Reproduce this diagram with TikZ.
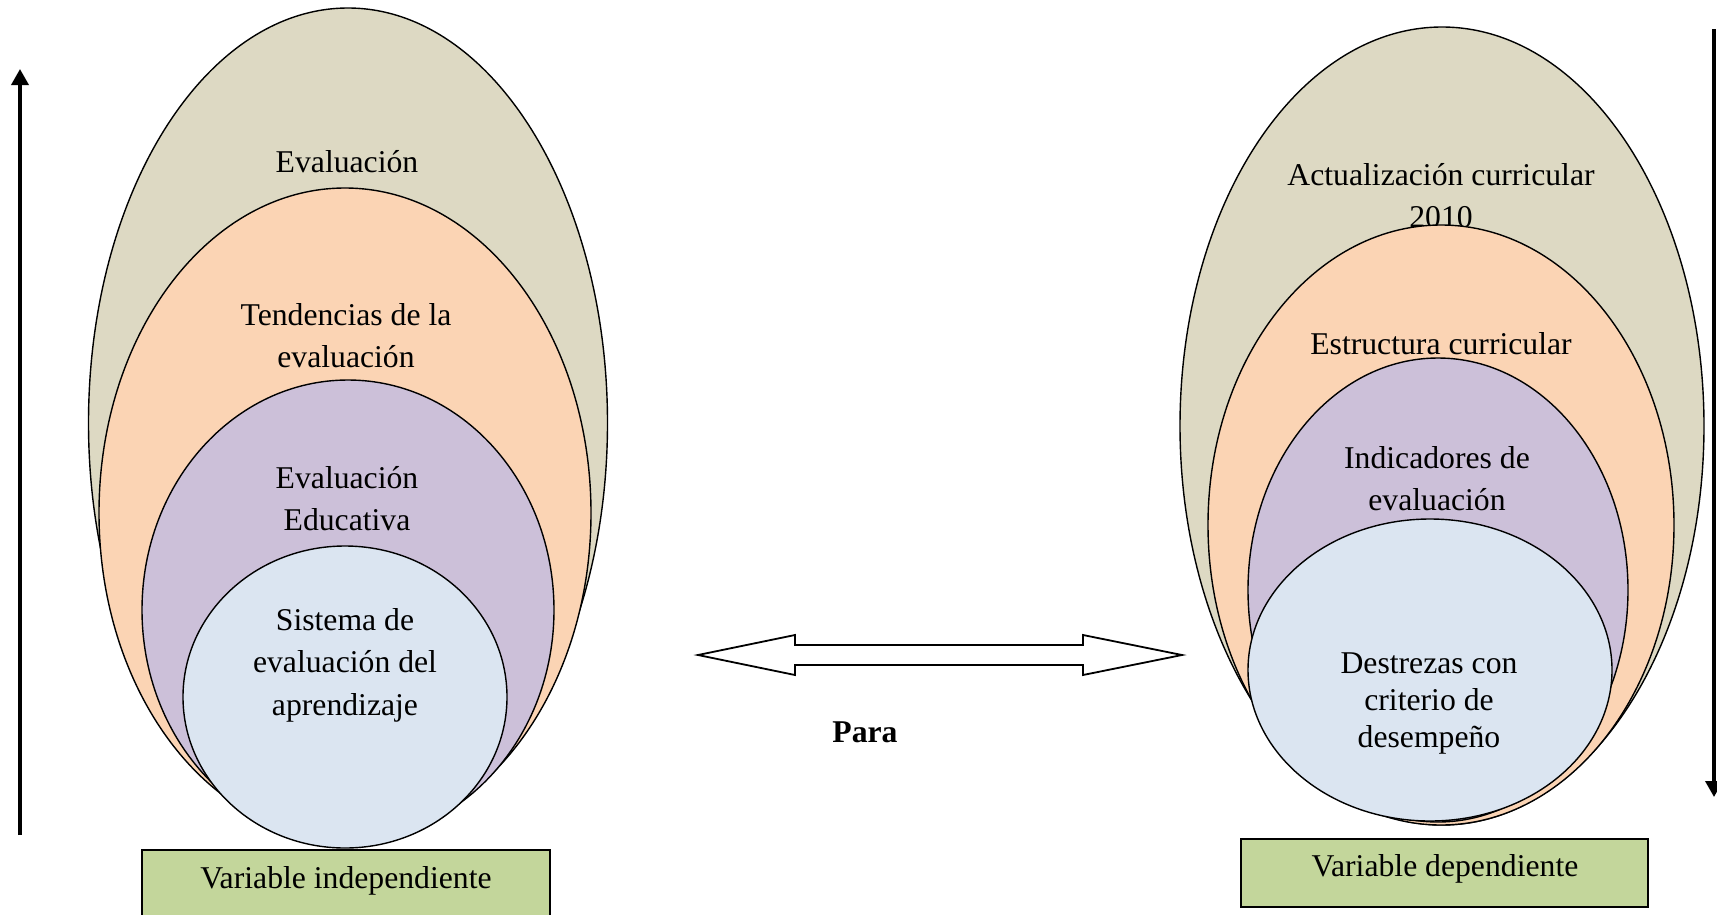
\documentclass[tikz,border=0pt]{standalone}
\usepackage{fontspec}
\setmainfont{Liberation Serif}
\usetikzlibrary{shapes.geometric,arrows.meta}
\definecolor{tanc}{HTML}{DDD9C3}
\definecolor{orangec}{HTML}{FBD4B4}
\definecolor{purplec}{HTML}{CCC0D9}
\definecolor{bluec}{HTML}{DBE5F1}
\definecolor{greenc}{HTML}{C3D69B}
\begin{document}
\begin{tikzpicture}[x=1pt,y=-1pt,
  ell/.style={ellipse, draw=black, line width=1.4pt, inner sep=0pt},
  lbl/.style={align=center, font=\fontsize{31.7}{42.5}\selectfont, inner sep=0pt},
  vbox/.style={rectangle, draw=black, line width=2pt, fill=greenc, inner sep=0pt, anchor=north},
  vline/.style={line width=3.5pt, -{Triangle[length=16pt,width=17pt]}},
  darrow/.style={draw=black, line width=1.8pt, fill=white, line join=miter}]
\useasboundingbox (0,0) rectangle (1717,914);

% Left side
\node[ell, fill=tanc, minimum width=519pt, minimum height=830pt] (L1) at (348,423) {};
\node[lbl] (tL1) at (347,162) {Evaluación};
\node[ell, fill=orangec, minimum width=492pt, minimum height=650pt] (L2) at (345,513) {};
\node[lbl] (tL2) at (346,335.5) {Tendencias de la\\evaluación};
\node[ell, fill=purplec, minimum width=412pt, minimum height=460pt] (L3) at (348,610) {};
\node[lbl] (tL3) at (347,498.5) {Evaluación\\Educativa};
\node[ell, fill=bluec, minimum width=324pt, minimum height=302pt] (L4) at (345,697) {};
\node[lbl] (tL4) at (345,665) {Sistema de\\evaluación del\\aprendizaje};
\node[vbox, minimum width=408pt, minimum height=70pt] (VI) at (346,849) {};
\node[lbl] (tVI) at (346,881) {Variable independiente};

% Right side
\node[ell, fill=tanc, minimum width=524pt, minimum height=798pt] (R1) at (1442,426) {};
\node[lbl] (tR1) at (1441,195.5) {Actualización curricular\\2010};
\node[ell, fill=orangec, minimum width=466pt, minimum height=600pt] (R2) at (1441,525) {};
\node[lbl] (tR2) at (1441,343.5) {Estructura curricular};
\node[ell, fill=purplec, minimum width=380pt, minimum height=464pt] (R3) at (1438,590) {};
\node[lbl] (tR3) at (1437,478.5) {Indicadores de\\evaluación};
\node[ell, fill=bluec, minimum width=364pt, minimum height=302pt] (R4) at (1430,670) {};
\node[lbl, font=\fontsize{31.7}{37}\selectfont] (tR4) at (1429,703) {Destrezas con\\criterio de\\desempeño};
\node[vbox, minimum width=407pt, minimum height=68pt] (VD) at (1444.5,838) {};
\node[lbl] (tVD) at (1445,869) {Variable dependiente};

% Vertical arrows
\coordinate (a1s) at (20,835);
\coordinate (a1e) at (20,69);
\draw[vline] (a1s) -- (a1e);
\coordinate (a2s) at (1714,29);
\coordinate (a2e) at (1714,797);
\draw[vline] (a2s) -- (a2e);

% Double arrow
\draw[darrow] (698,655) -- (795,635) -- (795,645) -- (1083,645) -- (1083,635)
  -- (1182,655) -- (1083,675) -- (1083,665) -- (795,665) -- (795,675) -- cycle;
\node[lbl, font=\fontsize{31.7}{42.5}\selectfont\bfseries] (para) at (865,732) {Para};
\end{tikzpicture}
\end{document}
